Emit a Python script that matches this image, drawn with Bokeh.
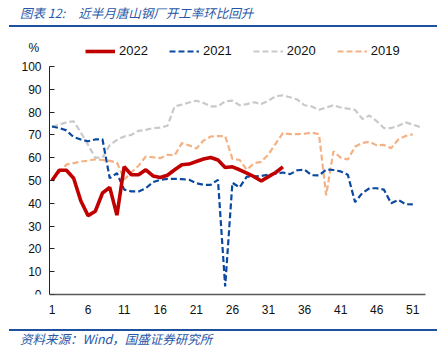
from bokeh.plotting import figure
from bokeh.models import Div, Label, Range1d, FixedTicker, Legend, LegendItem
from bokeh.layouts import column
from bokeh.embed import file_html
from bokeh.resources import INLINE

weeks = list(range(1, 53))
x_ticks = [1, 6, 11, 16, 21, 26, 31, 36, 41, 46, 51]
y_ticks = list(range(0, 101, 10))

y2022 = [50, 54.5, 54.5, 51, 41, 34.6, 36.5, 44.5, 47, 34.8, 56, 52.5, 52.5, 54.7, 52,
         51.3, 52.3, 54.7, 56.9, 57.2, 58.3, 59.4, 60.1, 59, 55.7, 56, 54.7, 53.2, 51.7,
         49.8, 51.7, 53.5, 56]
y2021 = [73.7, 73, 72, 69, 68, 67.2, 68, 68, 51, 53.2, 46, 45.2, 45.2, 46.6, 49.3, 50.3,
         50.7, 50.7, 50.6, 50.3, 48.8, 48.1, 48.1, 50.3, 3.5, 49, 47, 51.7, 51.7, 52, 52.6,
         53, 53.5, 52.8, 54.5, 54.7, 52.3, 52.2, 54.8, 54.6, 54, 52.5, 40.5, 44.5, 46.6,
         46.6, 46, 40, 41.5, 39.6, 39.5]
y2020 = [73.7, 74.5, 75.5, 76, 71, 65.6, 60, 60, 65.5, 67.8, 69.3, 70, 71.8, 72.2, 73,
         73.2, 74, 82.5, 83.3, 84.2, 85, 84, 82.5, 82.5, 84.7, 85, 83, 83.5, 84.3, 83.5,
         85, 87, 87.3, 86.5, 85.5, 83, 82.5, 81, 82, 83, 82, 81.5, 81, 77, 78.5, 76, 73,
         73, 74, 75.5, 74.5, 73.5]
y2019 = [50.4, 53.5, 57, 57.6, 58.3, 58.7, 59.3, 59, 58.6, 57.9, 50.4, 53.5, 56.5, 60.5,
         60.2, 59.8, 61.3, 61, 66.4, 65.4, 64, 67.5, 69.3, 69.5, 69.5, 59.5, 59, 54.7,
         57.6, 58.2, 61.5, 66.2, 70.8, 70.3, 70.3, 70.5, 71, 70.3, 43.5, 62.8, 60, 59.2,
         64.8, 66.5, 67, 65.4, 65.6, 64.2, 68, 69.5, 70.3]

title_text = "图表 12:"
title_rest = "近半月唐山钢厂开工率环比回升"
source_text = "资料来源：Wind，国盛证券研究所"
unit_text = "%"

LINE_BLUE = "#1E50A0"
TEXT_BLUE = "#2757A6"

top = Div(
    text=(
        '<div style="position:relative;width:447px;height:40px;">'
        '<div style="position:absolute;left:20px;top:5px;font-family:\'Noto Sans CJK SC\';'
        'font-style:italic;font-size:12.5px;line-height:16px;color:%s;white-space:nowrap;">'
        '%s<span style="margin-left:13px">%s</span></div>'
        '<div style="position:absolute;left:9px;top:25px;width:428px;height:2px;background:%s;"></div>'
        '</div>' % (TEXT_BLUE, title_text, title_rest, LINE_BLUE)
    ),
    width=447, height=40, margin=(0, 0, 0, 0),
)

# frame spans x 10..425 px; week 1 sits at 51.5 px, 7.2157 px per week
PXW = 7.2157
X0, X1 = 1 - 41.5 / PXW, 52 + 5.5 / PXW
AXIS_X = 1 - 2.5 / PXW

p = figure(
    width=447, height=280,
    x_range=Range1d(X0, X1), y_range=Range1d(0, 111.4),
    output_backend="svg", toolbar_location=None,
    min_border_left=10, min_border_right=22, min_border_top=0, min_border_bottom=26,
)
p.outline_line_color = None
p.background_fill_color = "white"
p.border_fill_color = "white"
p.xgrid.visible = False
p.ygrid.visible = False

r19 = p.line(weeks[:len(y2019)], y2019, line_color="#F4B183", line_width=2.2, line_dash="6 3")
r20 = p.line(weeks[:len(y2020)], y2020, line_color="#C9C9C9", line_width=2.2, line_dash="6 3")
r21 = p.line(weeks[:len(y2021)], y2021, line_color="#0B48A0", line_width=2.2, line_dash="6 3")
r22 = p.line(weeks[:len(y2022)], y2022, line_color="#C00000", line_width=3.6)

legend = Legend(items=[
    LegendItem(label="2022", renderers=[r22]),
    LegendItem(label="2021", renderers=[r21]),
    LegendItem(label="2020", renderers=[r20]),
    LegendItem(label="2019", renderers=[r19]),
])
legend.orientation = "horizontal"
legend.location = (75, 236)
legend.glyph_width = 30
legend.glyph_height = 14
legend.label_height = 14
legend.label_standoff = 4
legend.spacing = 21
legend.padding = 0
legend.margin = 0
legend.border_line_color = None
legend.background_fill_alpha = 0
legend.label_text_font = "Liberation Sans"
legend.label_text_font_size = "13px"
legend.label_text_color = "#111111"
p.add_layout(legend)

ya = p.yaxis[0]
ya.fixed_location = AXIS_X
ya.ticker = FixedTicker(ticks=y_ticks)
ya.bounds = (0, 100)
ya.major_tick_in = 5
ya.major_tick_out = 0
ya.minor_tick_in = 0
ya.minor_tick_out = 0
ya.major_label_standoff = 8
ya.axis_line_color = "#222222"
ya.major_tick_line_color = "#222222"
ya.major_label_text_font = "Liberation Sans"
ya.major_label_text_font_size = "12px"
ya.major_label_text_color = "#111111"

xa = p.xaxis[0]
xa.ticker = FixedTicker(ticks=x_ticks)
xa.bounds = (AXIS_X, X1)
xa.major_tick_in = 0
xa.major_tick_out = 0
xa.minor_tick_in = 0
xa.minor_tick_out = 0
xa.major_label_standoff = 10
xa.axis_line_color = "#595959"
xa.axis_line_width = 1.6
xa.major_label_text_font = "Liberation Sans"
xa.major_label_text_font_size = "12px"
xa.major_label_text_color = "#111111"

# "%" unit label, left of the y axis near its top
pct = Label(x=1 - 18.2 / PXW, y=107.9, x_units="data", y_units="data", text=unit_text,
            text_align="center", text_baseline="middle",
            text_font="Liberation Sans", text_font_size="12px", text_color="#111111")
p.add_layout(pct)

bottom = Div(
    text=(
        '<div style="position:relative;width:447px;height:37px;">'
        '<div style="position:absolute;left:9px;top:9px;width:428px;height:2px;background:%s;"></div>'
        '<div style="position:absolute;left:20px;top:11px;font-family:\'Noto Sans CJK SC\';'
        'font-style:italic;font-size:12.5px;line-height:16px;color:%s;white-space:nowrap;">%s</div>'
        '</div>' % (LINE_BLUE, TEXT_BLUE, source_text)
    ),
    width=447, height=37, margin=(0, 0, 0, 0),
)

layout = column(top, p, bottom, spacing=0)
open("out.html", "w").write(file_html(layout, INLINE))
